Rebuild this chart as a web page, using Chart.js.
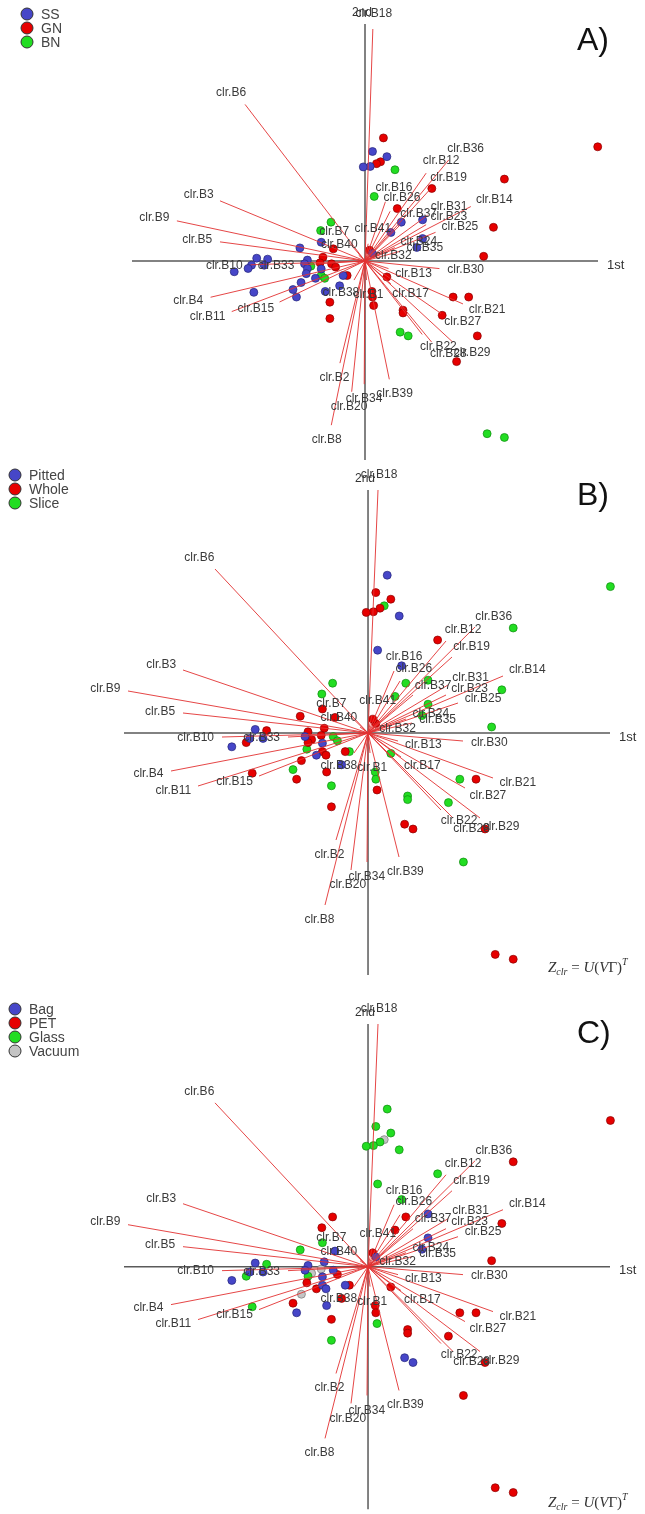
<!DOCTYPE html>
<html>
<head>
<meta charset="utf-8">
<script src="https://cdn.jsdelivr.net/npm/chart.js@4.4.1/dist/chart.umd.min.js"></script>
<style>
  html, body { margin: 0; padding: 0; background: #fff; }
  body { width: 645px; height: 1514px; position: relative; overflow: hidden; }
  canvas { position: absolute; left: 0; }
</style>
</head>
<body>
<canvas id="panelA" width="645" height="465" style="top:0px"></canvas>
<canvas id="panelB" width="645" height="520" style="top:465px"></canvas>
<canvas id="panelC" width="645" height="529" style="top:985px"></canvas>
<script>
// sample scores on the 1st / 2nd component
const pc1 = [
  0.32, 0.13, 0.38, 0.27, 0.20, 0.09, -0.03, 0.52, 0.16, 1.16,
  2.42, 4.04, 0.56, 0.63, 1.00, 0.45, 2.23, 1.00, 2.06, 0.13,
  -0.31, 0.38, -0.38, -0.44, 0.12, 0.13, 0.15, -0.69, -0.61, -0.61,
  0.66, 0.66, 1.53, 1.80, 1.34, 0.61, 0.75, 1.95, 1.59, 2.12,
  2.42, -0.76, -0.59, -0.77, -0.55, -0.76, -0.73, -0.58, -0.51, -0.76,
  -0.70, -1.13, -1.88, -1.69, -1.97, -2.03, -2.27, -1.75, -1.00, -1.05,
  -0.94, -1.00, -1.02, -0.86, -1.11, -1.25, -1.19, -1.93, 0.90, -0.78,
  0.08
];
const pc2 = [
  2.63, 2.34, 2.23, 2.12, 2.08, 2.02, 2.01, 1.95, 1.38, 1.55,
  1.75, 2.44, 1.12, 0.83, 0.88, 0.61, 0.72, 0.48, 0.10, 0.16,
  -0.31, -0.34, -0.31, -0.53, -0.65, -0.77, -0.95, -0.65, -0.88, -1.23,
  -1.05, -1.11, -0.77, -0.77, -1.16, -1.52, -1.60, -1.60, -2.15, -3.69,
  -3.77, -0.17, 0.83, 0.65, 0.26, 0.40, 0.08, -0.06, -0.13, -0.31,
  -0.37, 0.28, 0.06, 0.04, -0.09, -0.16, -0.23, -0.09, 0.02, -0.06,
  -0.11, -0.16, -0.27, -0.37, -0.46, -0.61, -0.77, -0.67, 0.29, -0.04,
  0.23
];

// groupings of the same samples
const groupsA = [
  "GN", "SS", "SS", "GN", "GN", "SS", "SS", "BN", "BN", "GN",
  "GN", "GN", "GN", "SS", "SS", "SS", "GN", "SS", "GN", "SS",
  "GN", "GN", "SS", "SS", "GN", "GN", "GN", "SS", "GN", "GN",
  "GN", "GN", "GN", "GN", "GN", "BN", "BN", "GN", "GN", "BN",
  "BN", "SS", "BN", "BN", "GN", "SS", "GN", "GN", "GN", "BN",
  "BN", "SS", "SS", "SS", "SS", "SS", "SS", "SS", "SS", "SS",
  "BN", "SS", "SS", "SS", "SS", "SS", "SS", "SS", "SS", "GN",
  "GN"
];
const groupsB = [
  "Pitted", "Whole", "Whole", "Slice", "Whole", "Whole", "Whole", "Pitted", "Pitted", "Whole",
  "Slice", "Slice", "Pitted", "Slice", "Slice", "Slice", "Slice", "Slice", "Slice", "Whole",
  "Slice", "Slice", "Whole", "Pitted", "Slice", "Slice", "Whole", "Whole", "Slice", "Whole",
  "Slice", "Slice", "Slice", "Whole", "Slice", "Whole", "Whole", "Whole", "Slice", "Whole",
  "Whole", "Pitted", "Slice", "Slice", "Whole", "Whole", "Whole", "Slice", "Slice", "Whole",
  "Whole", "Whole", "Pitted", "Whole", "Pitted", "Whole", "Pitted", "Pitted", "Whole", "Pitted",
  "Whole", "Whole", "Slice", "Pitted", "Whole", "Slice", "Whole", "Whole", "Slice", "Whole",
  "Whole"
];
const groupsC = [
  "Glass", "Glass", "Glass", "Vacuum", "Glass", "Glass", "Glass", "Glass", "Glass", "Glass",
  "PET", "PET", "Glass", "PET", "Bag", "PET", "PET", "Bag", "PET", "Bag",
  "PET", "PET", "Bag", "PET", "PET", "PET", "Glass", "Bag", "PET", "Glass",
  "PET", "PET", "PET", "PET", "PET", "Bag", "Bag", "PET", "PET", "PET",
  "PET", "Bag", "PET", "PET", "Bag", "Glass", "Bag", "Bag", "PET", "Bag",
  "Bag", "Glass", "Bag", "Glass", "Bag", "Glass", "Bag", "Bag", "Bag", "Bag",
  "Vacuum", "Glass", "PET", "PET", "Vacuum", "PET", "Bag", "Glass", "Bag", "Vacuum",
  "PET"
];
const legendA = ["SS", "GN", "BN"];
const legendB = ["Pitted", "Whole", "Slice"];
const legendC = ["Bag", "PET", "Glass", "Vacuum"];

// clr variable loadings
const loadNames = [];
for (let i = 1; i <= 41; i++) loadNames.push("clr.B" + i);
const loadX = [
  0.008, -0.128, -0.74, -0.788, -0.74, -0.612, -0.08, -0.172, -0.96, -0.584,
  -0.68, 0.312, 0.12, 0.54, -0.436, 0.104, 0.132, 0.04, 0.336, -0.068,
  0.5, 0.292, 0.312, 0.152, 0.36, 0.128, 0.388, 0.34, 0.448, 0.38,
  0.32, 0.016, -0.32, -0.004, 0.176, 0.428, 0.18, -0.056, 0.124, -0.032,
  0.016
];
const loadY = [
  -0.08, -0.428, 0.252, -0.152, 0.08, 0.656, 0.076, -0.688, 0.168, -0.016,
  -0.212, 0.368, -0.032, 0.228, -0.172, 0.248, -0.096, 0.972, 0.304, -0.548,
  -0.18, -0.308, 0.152, 0.056, 0.12, 0.208, -0.22, -0.34, -0.34, -0.032,
  0.192, 0.004, -0.016, -0.516, 0.04, 0.424, 0.152, -0.08, -0.496, 0.024,
  0.072
];

const fills = ["#4646c8", "#e60000", "#22dd22", "#c4c4c4"];
const edges = ["#25257a", "#8a0000", "#0f8a0f", "#777777"];
const LABEL_FONT = '12px "Liberation Sans", Arial, sans-serif';

const biplotDecor = {
  id: "biplotDecor",
  beforeDatasetsDraw(chart) {
    const { ctx, chartArea: a, scales } = chart;
    const ox = scales.x.getPixelForValue(0);
    const oy = scales.y.getPixelForValue(0);
    ctx.save();
    ctx.strokeStyle = "#5a5a5a";
    ctx.lineWidth = 1.5;
    ctx.beginPath();
    ctx.moveTo(a.left, oy); ctx.lineTo(a.right, oy);
    ctx.moveTo(ox, a.top); ctx.lineTo(ox, a.bottom);
    ctx.stroke();
    ctx.restore();
  },
  afterDatasetsDraw(chart, args, opts) {
    const { ctx, chartArea: a, scales } = chart;
    const ox = scales.lx.getPixelForValue(0);
    const oy = scales.ly.getPixelForValue(0);
    ctx.save();
    ctx.font = LABEL_FONT;
    ctx.fillStyle = "#3a3a3a";
    ctx.textAlign = "center";
    ctx.textBaseline = "middle";
    loadNames.forEach((name, i) => {
      const px = scales.lx.getPixelForValue(loadX[i]);
      const py = scales.ly.getPixelForValue(loadY[i]);
      const len = Math.hypot(px - ox, py - oy) || 1;
      const ux = (px - ox) / len, uy = (py - oy) / len;
      const w = ctx.measureText(name).width;
      ctx.fillText(name, px + ux * (w / 2 + 8), py + uy * 15);
    });

    // axis names
    const ax = scales.x.getPixelForValue(0);
    const ay = scales.y.getPixelForValue(0);
    ctx.fillStyle = "#333";
    ctx.font = '13px "Liberation Sans", Arial, sans-serif';
    ctx.textAlign = "left";
    ctx.fillText("1st", a.right + 9, ay + 4);
    ctx.font = '12px "Liberation Sans", Arial, sans-serif';
    ctx.textAlign = "center";
    ctx.fillText("2nd", ax - 3, a.top - 11);

    // group legend
    ctx.font = '14px "Liberation Sans", Arial, sans-serif';
    ctx.textAlign = "left";
    opts.legend.forEach((g, k) => {
      const cy = opts.legendY + k * 14;
      ctx.beginPath();
      ctx.arc(opts.legendX, cy, 6, 0, Math.PI * 2);
      ctx.fillStyle = fills[k];
      ctx.fill();
      ctx.lineWidth = 1;
      ctx.strokeStyle = "#333";
      ctx.stroke();
      ctx.fillStyle = "#444";
      ctx.fillText(g, opts.legendX + 14, cy + 1);
    });

    // panel letter
    ctx.fillStyle = "#111";
    ctx.font = '32px "Liberation Sans", Arial, sans-serif';
    ctx.textBaseline = "alphabetic";
    ctx.fillText(opts.letter, 577, opts.letterY);

    // formula
    if (opts.formulaY) {
      let x = 548;
      const y = opts.formulaY;
      ctx.fillStyle = "#333";
      const put = (t, font, dy) => {
        ctx.font = font;
        ctx.fillText(t, x, y + dy);
        x += ctx.measureText(t).width;
      };
      const serif = '"Liberation Serif", "DejaVu Serif", serif';
      put("Z", "italic 15px " + serif, 0);
      put("clr", "italic 10px " + serif, 3);
      put(" = ", "15px " + serif, 0);
      put("U", "italic 15px " + serif, 0);
      put("(", "15px " + serif, 0);
      put("V", "italic 15px " + serif, 0);
      put("\u0393)", "15px " + serif, 0);
      put("T", "italic 10px " + serif, -7);
    }
    ctx.restore();
  }
};

function makeBiplot(id, p) {
  const pointSets = p.legend.map((g, k) => ({
    label: g,
    data: pc1.map((v, i) => ({ x: v, y: pc2[i] })).filter((_, i) => p.groups[i] === g),
    backgroundColor: fills[k],
    borderColor: edges[k],
    borderWidth: 0.7,
    pointRadius: 4,
    order: 1,
    clip: false
  }));
  const arrowSets = loadNames.map((name, i) => ({
    label: name,
    data: [{ x: 0, y: 0 }, { x: loadX[i], y: loadY[i] }],
    xAxisID: "lx",
    yAxisID: "ly",
    showLine: true,
    borderColor: "rgba(226,50,50,0.9)",
    borderWidth: 1,
    pointRadius: 0,
    order: 0
  }));
  return new Chart(document.getElementById(id), {
    type: "scatter",
    data: { datasets: pointSets.concat(arrowSets) },
    options: {
      responsive: false,
      animation: false,
      events: [],
      layout: { padding: p.padding },
      scales: {
        x: { type: "linear", min: p.x[0], max: p.x[1], display: false },
        y: { type: "linear", min: p.y[0], max: p.y[1], display: false },
        lx: { type: "linear", axis: "x", min: p.lx[0], max: p.lx[1], display: false },
        ly: { type: "linear", axis: "y", min: p.ly[0], max: p.ly[1], display: false }
      },
      plugins: {
        legend: { display: false },
        tooltip: { enabled: false },
        biplotDecor: {
          legend: p.legend, legendX: p.legendX, legendY: p.legendY,
          letter: p.letter, letterY: p.letterY, formulaY: p.formulaY
        }
      }
    },
    plugins: [biplotDecor]
  });
}

makeBiplot("panelA", {
  groups: groupsA, legend: legendA, legendX: 27, legendY: 14,
  letter: "A)", letterY: 50, formulaY: 0,
  padding: { left: 132, right: 47, top: 24, bottom: 5 },
  x: [-4.045, 4.045], y: [-4.252, 5.064],
  lx: [-1.189, 1.189], ly: [-0.834, 0.993]
});
makeBiplot("panelB", {
  groups: groupsB, legend: legendB, legendX: 15, legendY: 10,
  letter: "B)", letterY: 40, formulaY: 507,
  padding: { left: 124, right: 35, top: 25, bottom: 10 },
  x: [-4.067, 4.033], y: [-4.033, 4.05],
  lx: [-0.976, 0.968], ly: [-0.968, 0.972]
});
makeBiplot("panelC", {
  groups: groupsC, legend: legendC, legendX: 15, legendY: 24,
  letter: "C)", letterY: 58, formulaY: 522,
  padding: { left: 124, right: 35, top: 39, bottom: 4 },
  x: [-4.067, 4.033], y: [-4.05, 4.05],
  lx: [-0.976, 0.968], ly: [-0.972, 0.972]
});
</script>
</body>
</html>
